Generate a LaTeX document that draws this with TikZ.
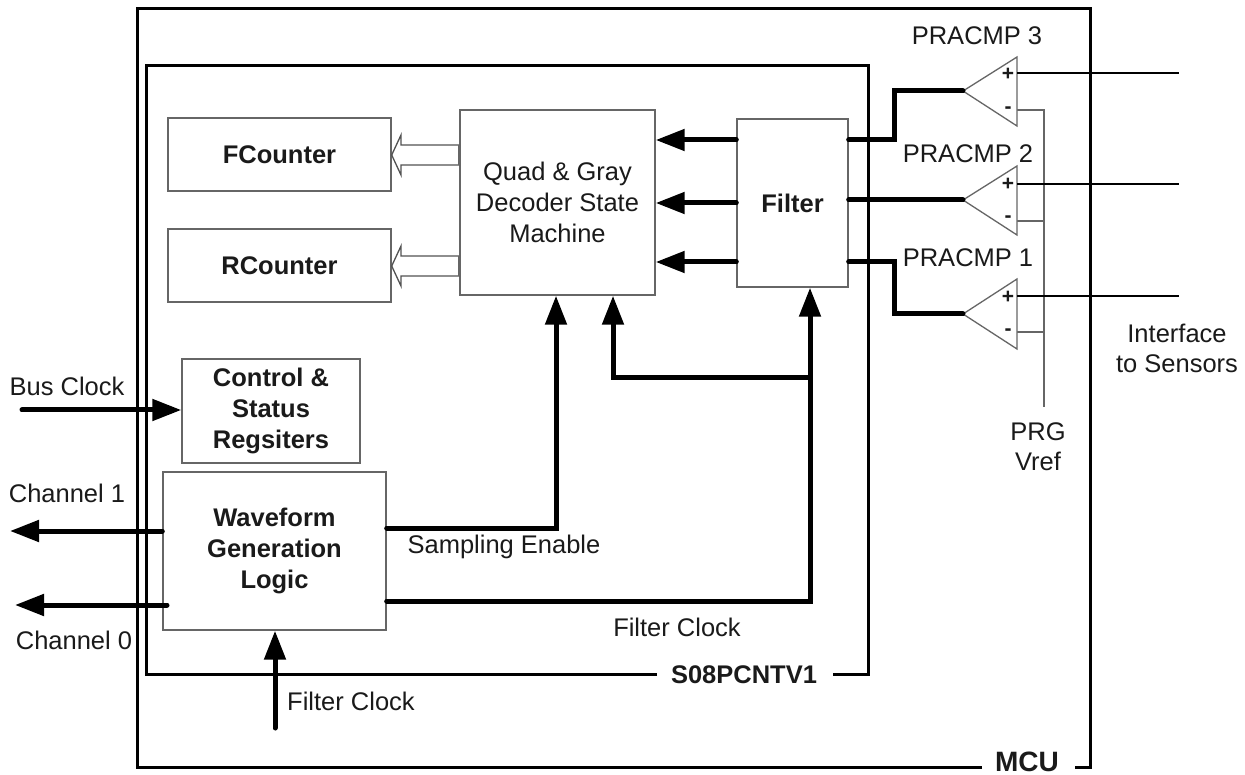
\documentclass[tikz,border=0pt]{standalone}
\usepackage{fontspec}
\setmainfont{Liberation Sans}
\usetikzlibrary{arrows.meta}
\definecolor{boxgray}{HTML}{666666}
\definecolor{ink}{HTML}{1A1A1A}
\tikzset{
  block/.style={draw=boxgray,line width=1.4pt,fill=white,inner sep=0pt,align=center,text=ink,font=\fontsize{25.5}{31}\selectfont},
  boldblock/.style={block,font=\fontsize{25.5}{31}\selectfont\bfseries},
  frame/.style={draw=black,line width=3pt},
  label/.style={inner sep=0pt,align=center,text=ink,font=\fontsize{25.5}{30}\selectfont},
  bus/.style={draw=black,line width=5pt,line cap=round,line join=miter},
  busarrow/.style={bus,-{Triangle[length=29pt,width=21pt]}},
  signal/.style={draw=black,line width=2.4pt},
  vref/.style={draw=boxgray,line width=1.3pt},
  comparator/.style={draw=boxgray,line width=1.3pt,fill=white},
  hollow/.style={draw=boxgray!80!black,line width=1.3pt,fill=white,line join=miter}
}
\begin{document}
\begin{tikzpicture}[x=1pt,y=-1pt]
\useasboundingbox (0,0) rectangle (1245,775);
\fill[white] (0,0) rectangle (1245,775);
% frames
\coordinate (mcuA) at (982,767);
\coordinate (mcuB) at (1075,767);
\coordinate (socA) at (657,674);
\coordinate (socB) at (833,674);
\draw[frame,line join=miter] (mcuA) -- (137,767) -- (137,9) -- (1090,9) -- (1090,767) -- (mcuB);
\draw[frame,line join=miter] (socA) -- (146,674) -- (146,66) -- (868,66) -- (868,674) -- (socB);
\node[label,font=\fontsize{25.5}{30}\selectfont\bfseries] (soclabel) at (744,675) {S08PCNTV1};
\node[label,font=\fontsize{28}{30}\selectfont\bfseries,anchor=base] (mculabel) at (1027,771) {MCU};
% blocks
\node[boldblock,minimum width=223pt,minimum height=73pt] (fc) at (279.5,154.5) {FCounter};
\node[boldblock,minimum width=223pt,minimum height=73pt] (rc) at (279.5,265.5) {RCounter};
\node[block,minimum width=195pt,minimum height=185pt] (quad) at (557.5,202.5) {Quad \& Gray\\Decoder State\\Machine};
\node[boldblock,minimum width=111pt,minimum height=168pt] (filter) at (792.5,203) {Filter};
\node[boldblock,minimum width=178pt,minimum height=104pt] (csr) at (271,411) {Control \&\\Status\\Regsiters};
\node[boldblock,minimum width=223pt,minimum height=158pt] (wave) at (274.5,551) {Waveform\\Generation\\Logic};
% hollow arrows
\draw[hollow] (quad.west|-0,145) -- (401,145) -- (401,135) -- (fc.east|-0,155) -- (401,175) -- (401,165) -- (quad.west|-0,165);
\draw[hollow] (quad.west|-0,256) -- (401,256) -- (401,246) -- (rc.east|-0,266) -- (401,286) -- (401,276) -- (quad.west|-0,276);
\draw[boxgray,line width=2pt] (quad.west|-0,145) -- (quad.west|-0,165);
\draw[boxgray,line width=2pt] (quad.west|-0,256) -- (quad.west|-0,276);
% comparator points
\coordinate (c3) at (963,91);
\coordinate (c2) at (963,200);
\coordinate (c1) at (963,314);
\coordinate (vtop) at (1044,110);
\coordinate (vbot) at (1044,407);
\coordinate (in3) at (1179,73);
\coordinate (in2) at (1179,184);
\coordinate (in1) at (1179,296);
% vref
\draw[vref] (1017,110) -- (vtop) -- (vbot);
\draw[vref] (1017,221) -- (vtop|-0,221);
\draw[vref] (1017,332) -- (vtop|-0,332);
% comparators
\draw[comparator] (c3) -- (1017,57) -- (1017,126) -- cycle;
\draw[comparator] (c2) -- (1017,166) -- (1017,235) -- cycle;
\draw[comparator] (c1) -- (1017,279) -- (1017,349) -- cycle;
\foreach \n/\y/\s in {a/74/+,b/110/-,c/184/+,d/219/-,e/297/+,f/332/-}{
  \node[label,font=\fontsize{21}{23}\selectfont\bfseries] (sign\n) at (1008,\y) {\s};
}
% sensor inputs
\draw[signal] (1017,73) -- (in3);
\draw[signal] (1017,184) -- (in2);
\draw[signal] (1017,296) -- (in1);
% filter outputs
\draw[bus] (filter.east|-0,140) -- (894,140) -- (894,91) -- (c3);
\draw[bus] (filter.east|-0,200) -- (c2);
\draw[bus] (filter.east|-0,262) -- (894,262) -- (894,314) -- (c1);
% filter to decoder
\draw[busarrow] (filter.west|-0,140) -- (quad.east|-0,140);
\draw[busarrow] (filter.west|-0,203) -- (quad.east|-0,203);
\draw[busarrow] (filter.west|-0,262) -- (quad.east|-0,262);
% clocks and enables
\coordinate (branch) at (810,378);
\draw[busarrow] (wave.east|-0,528) -- (556,528) -- (quad.south-|556,0);
\draw[busarrow] (wave.east|-0,601) -- (810,601) -- (filter.south-|810,0);
\draw[busarrow] (branch) -- (613,378) -- (quad.south-|613,0);
% external
\coordinate (busin) at (22,410);
\coordinate (ch1) at (10,531);
\coordinate (ch0) at (15,605);
\coordinate (fclk) at (275,728);
\draw[busarrow] (busin) -- (csr.west|-busin);
\draw[busarrow] (wave.west|-ch1) -- (ch1);
\draw[busarrow] (167,605) -- (ch0);
\draw[busarrow] (fclk) -- (wave.south-|fclk);
% labels
\node[label] (lp3) at (977,36) {PRACMP 3};
\node[label] (lp2) at (968,154) {PRACMP 2};
\node[label] (lp1) at (968,258) {PRACMP 1};
\node[label] (lif) at (1177,348) {Interface\\to Sensors};
\node[label] (lvr) at (1038,447) {PRG\\Vref};
\node[label] (lbus) at (67,386) {Bus Clock};
\node[label] (lc1) at (67,493) {Channel 1};
\node[label] (lc0) at (74,640) {Channel 0};
\node[label] (lse) at (504,547) {Sampling Enable};
\node[label] (lfc1) at (677,627) {Filter Clock};
\node[label] (lfc2) at (351,701) {Filter Clock};
\end{tikzpicture}
\end{document}
